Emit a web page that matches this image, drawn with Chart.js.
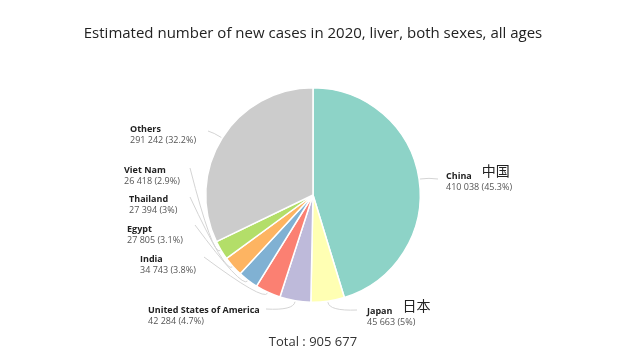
<!DOCTYPE html>
<html><head><meta charset="utf-8">
<script src="https://cdn.jsdelivr.net/npm/chart.js@4/dist/chart.umd.min.js"></script>
<style>html,body{margin:0;padding:0;background:#fff;}#wrap{width:640px;height:355px;}</style>
</head><body><div id="wrap"><canvas id="c" width="640" height="355"></canvas></div>
<script>
const categories = ["China","Japan","United States of America","India","Egypt","Thailand","Viet Nam","Others"];
const nativeNames = ["中国","日本","","","","","",""];
const cases = [410038,45663,42284,34743,27805,27394,26418,291242];
const percents = ["45.3%","5%","4.7%","3.8%","3.1%","3%","2.9%","32.2%"];
const colors = ["#8dd3c7","#ffffb3","#bebada","#fb8072","#80b1d3","#fdb462","#b3de69","#cccccc"];
const titleText = "Estimated number of new cases in 2020, liver, both sexes, all ages";
const totalCases = 905677;

function fmt(n){return String(n).replace(/\B(?=(\d{3})+(?!\d))/g,' ');}

// label layout: text x, name baseline y, leader anchor
const labelLayout = [
  {x:446,y:179, ax:438, ay:179},
  {x:367,y:314, ax:357, ay:310},
  {x:148,y:313, ax:266, ay:309},
  {x:140,y:262, ax:204, ay:257},
  {x:127,y:232, ax:195, ay:225},
  {x:129,y:202, ax:190, ay:197},
  {x:124,y:173, ax:190, ay:168},
  {x:130,y:132, ax:208, ay:131}
];

const labelPlugin = {
  id:'labels',
  afterDraw(chart){
    const ctx = chart.ctx;
    const meta = chart.getDatasetMeta(0);
    ctx.save();
    ctx.fillStyle = '#222';
    ctx.font = '15px "Open Sans", "Noto Sans", sans-serif';
    ctx.textAlign = 'center';
    ctx.textBaseline = 'alphabetic';
    ctx.fillText(titleText, 313, 38);
    ctx.font = '13px "Open Sans", "Noto Sans", sans-serif';
    ctx.fillStyle = '#333';
    ctx.fillText('Total : ' + fmt(totalCases), 313, 346);
    meta.data.forEach((arc, i) => {
      const p = arc.getProps(['x','y','startAngle','endAngle','outerRadius'], true);
      const mid = (p.startAngle + p.endAngle) / 2;
      const r = p.outerRadius;
      const ex = p.x + Math.cos(mid) * (r + 1), ey = p.y + Math.sin(mid) * (r + 1);
      const cx = p.x + Math.cos(mid) * (r + 10), cy = p.y + Math.sin(mid) * (r + 10);
      const L = labelLayout[i];
      ctx.strokeStyle = '#d4d4d4';
      ctx.lineWidth = 1;
      ctx.beginPath();
      ctx.moveTo(L.ax, L.ay);
      ctx.quadraticCurveTo(cx, cy, ex, ey);
      ctx.stroke();
      ctx.textAlign = 'left';
      ctx.fillStyle = '#222';
      ctx.font = 'bold 9px "Open Sans", "Noto Sans", sans-serif';
      ctx.fillText(categories[i], L.x, L.y);
      const nw = ctx.measureText(categories[i]).width;
      ctx.fillStyle = '#555';
      ctx.font = '9px "Open Sans", "Noto Sans", sans-serif';
      ctx.fillText(fmt(cases[i]) + ' (' + percents[i] + ')', L.x, L.y + 11);
      if (nativeNames[i]) {
        ctx.fillStyle = '#222';
        ctx.font = '14px "Noto Sans CJK SC", sans-serif';
        ctx.fillText(nativeNames[i], L.x + nw + 10, L.y - 3);
      }
    });
    ctx.restore();
  }
};

new Chart(document.getElementById('c'), {
  type:'pie',
  data:{
    labels: categories,
    datasets:[{data:cases, backgroundColor:colors, borderColor:'#ffffff', borderWidth:1.5}]
  },
  options:{
    responsive:false,
    animation:false,
    layout:{padding:{left:205,right:219,top:87,bottom:52}},
    plugins:{legend:{display:false}, tooltip:{enabled:false}, title:{display:false}}
  },
  plugins:[labelPlugin]
});
</script>
</body></html>
